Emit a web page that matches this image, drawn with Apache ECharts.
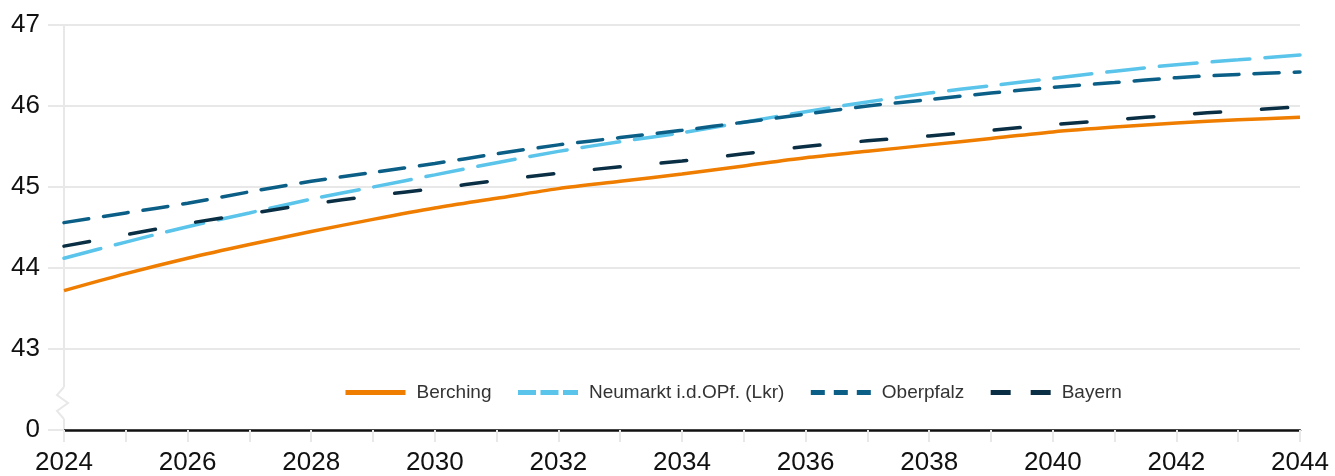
<!DOCTYPE html>
<html>
<head>
<meta charset="utf-8">
<script src="https://cdn.jsdelivr.net/npm/echarts@6/dist/echarts.min.js"></script>
<style>
html,body{margin:0;padding:0;background:#ffffff;}
#c{width:1335px;height:476px;}
</style>
</head>
<body>
<div id="c"></div>
<script>
// ---- data ----
const years = ['2024','2025','2026','2027','2028','2029','2030','2031','2032','2033','2034',
               '2035','2036','2037','2038','2039','2040','2041','2042','2043','2044'];
const berching  = [43.72,43.93,44.12,44.29,44.45,44.60,44.74,44.86,44.98,45.07,45.16,
                   45.26,45.36,45.44,45.52,45.60,45.68,45.74,45.79,45.83,45.86];
const neumarkt  = [44.12,44.32,44.51,44.68,44.85,45.00,45.15,45.30,45.44,45.56,45.67,
                   45.80,45.93,46.05,46.16,46.25,46.34,46.43,46.51,46.57,46.63];
const oberpfalz = [44.56,44.68,44.80,44.94,45.07,45.18,45.29,45.41,45.52,45.61,45.70,
                   45.80,45.90,46.00,46.08,46.16,46.23,46.29,46.35,46.39,46.42];
const bayern    = [44.27,44.41,44.55,44.67,44.79,44.89,44.98,45.08,45.17,45.25,45.32,
                   45.41,45.50,45.57,45.63,45.70,45.77,45.83,45.89,45.94,45.99];
const seriesNames = ['Berching','Neumarkt i.d.OPf. (Lkr)','Oberpfalz','Bayern'];
const yMin = 42, yMax = 47, yStep = 1;   // broken axis: bottom tick stands for 0
const yBreakLabel = '0';
const yBreakValue = 42.33;

// ---- style ----
const FONT = '"Liberation Sans", Arial, Helvetica, sans-serif';
const COLORS = ['#ef7d00', '#5ac4ea', '#0b5f87', '#0a2f44'];
const GRID_C = '#e8e8e8';

const chart = echarts.init(document.getElementById('c'), null, {renderer: 'canvas'});

const option = {
  animation: false,
  grid: {left: 64, right: 35, top: 25, bottom: 46, containLabel: false},
  legend: {
    left: 343, top: 383, padding: 0,
    itemWidth: 60, itemHeight: 12, itemGap: 24,
    itemStyle: {opacity: 0},
    textStyle: {fontSize: 19, color: '#333333', fontFamily: FONT, padding: [0, 0, 0, 6]},
    data: [
      {name: seriesNames[0], lineStyle: {width: 5, type: 'solid', cap: 'butt'}},
      {name: seriesNames[1], lineStyle: {width: 5, type: [18, 4.5], cap: 'butt'}},
      {name: seriesNames[2], lineStyle: {width: 5, type: [14, 9], cap: 'butt'}},
      {name: seriesNames[3], lineStyle: {width: 5, type: [20, 20], cap: 'butt'}}
    ]
  },
  xAxis: {
    type: 'category', data: years, boundaryGap: false,
    axisLine: {show: true, lineStyle: {color: '#111111', width: 2.5}},
    axisTick: {show: true, interval: 0, length: 12, lineStyle: {color: GRID_C, width: 2}},
    axisLabel: {interval: 1, fontSize: 26, color: '#111111', margin: 20, fontFamily: FONT},
    splitLine: {show: false}
  },
  yAxis: {
    type: 'value', min: yMin, max: yMax, interval: yStep,
    axisLine: {show: true, lineStyle: {color: GRID_C, width: 2}},
    axisTick: {show: true, length: 16, lineStyle: {color: GRID_C, width: 2}},
    axisLabel: {fontSize: 26, color: '#111111', margin: 24, fontFamily: FONT,
      formatter: v => (v === yMin ? yBreakLabel : String(v))},
    splitLine: {show: true, lineStyle: {color: GRID_C, width: 2}}
  },
  series: [
    {name: seriesNames[0], type: 'line', data: berching, showSymbol: false, symbol: 'none', smooth: 0.3,
     lineStyle: {color: COLORS[0], width: 3.5, type: 'solid'}, itemStyle: {color: COLORS[0]}, z: 4},
    {name: seriesNames[1], type: 'line', data: neumarkt, showSymbol: false, symbol: 'none', smooth: 0.3,
     lineStyle: {color: COLORS[1], width: 3.5, type: [38, 15], cap: 'round'}, itemStyle: {color: COLORS[1]}, z: 3},
    {name: seriesNames[2], type: 'line', data: oberpfalz, showSymbol: false, symbol: 'none', smooth: 0.3,
     lineStyle: {color: COLORS[2], width: 3.5, type: [25, 15], cap: 'round'}, itemStyle: {color: COLORS[2]}, z: 3},
    {name: seriesNames[3], type: 'line', data: bayern, showSymbol: false, symbol: 'none', smooth: 0.3,
     lineStyle: {color: COLORS[3], width: 3.5, type: [26, 41], cap: 'round'}, itemStyle: {color: COLORS[3]}, z: 3}
  ]
};
chart.setOption(option);

// axis break zigzag on the y axis line
const p = chart.convertToPixel({gridIndex: 0}, [years[0], yBreakValue]);
const x0 = Math.round(p[0]), yc = Math.round(p[1]);
chart.setOption({
  graphic: [
    {type: 'rect', z: 100, shape: {x: x0 - 3, y: yc - 16, width: 6, height: 32}, style: {fill: '#ffffff'}},
    {type: 'polyline', z: 101,
     shape: {points: [[x0, yc - 16], [x0 - 7, yc - 8], [x0 + 4, yc], [x0 - 7, yc + 8], [x0, yc + 16]]},
     style: {stroke: GRID_C, lineWidth: 2, fill: null}}
  ]
});
</script>
</body>
</html>
